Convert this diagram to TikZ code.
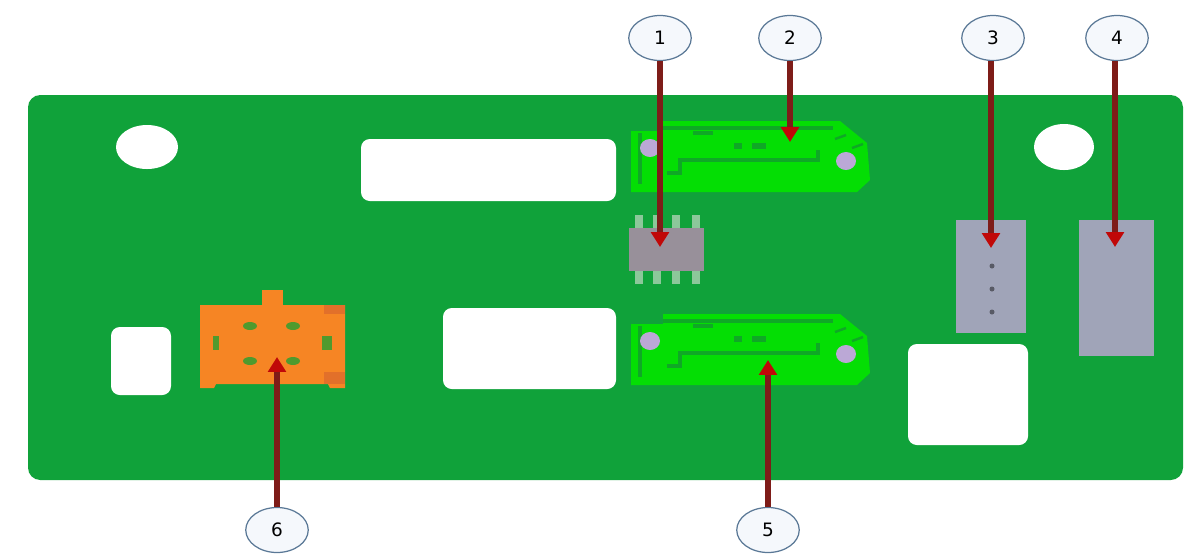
\documentclass[tikz,border=0pt]{standalone}
\usepackage{fontspec}
\setmainfont{DejaVu Sans}
\usepackage{tikz}
\usetikzlibrary{arrows.meta, shapes.geometric}
\definecolor{pcbGreen}{HTML}{10A23A}
\definecolor{connGreen}{HTML}{04DE04}
\definecolor{connLine}{HTML}{0FA826}
\definecolor{connHole}{HTML}{BBA8D6}
\definecolor{chipGray}{HTML}{98909A}
\definecolor{pinGreen}{HTML}{8CC89A}
\definecolor{blockGray}{HTML}{A0A4B8}
\definecolor{plugOrange}{HTML}{F68524}
\definecolor{plugDark}{HTML}{E2702A}
\definecolor{plugDot}{HTML}{4F9A2E}
\definecolor{calloutEdge}{HTML}{5A7896}
\definecolor{calloutFill}{HTML}{F5F8FC}
\definecolor{arrowRed}{HTML}{7E1C18}
\definecolor{tipRed}{HTML}{C00808}
% one connector, only the vertical offset changes
\newcommand{\drawconn}[1]{%
  \begin{scope}[shift={(0,#1)}]
    \fill[connGreen] (663,121) -- (840,121) -- (867,143) -- (870,180) -- (857,192)
      -- (631,192) -- (631,131) -- (663,131) -- cycle;
    \draw[connLine, line width=2pt] (663,128) -- (833,128);
    \draw[connLine, line width=1.8pt] (818,150) -- (818,160) -- (680,160) -- (680,173) -- (667,173);
    \draw[connLine, line width=2.4pt] (640,133) -- (640,184);
    \draw[connLine, line width=1.4pt] (835,139) -- (846,135);
    \draw[connLine, line width=1.4pt] (852,148) -- (863,144);
    \fill[connHole] (650,148) ellipse (10 and 9);
    \fill[connHole] (846,161) ellipse (10 and 9);
    \fill[connLine] (734,143) rectangle (742,149);
    \fill[connLine] (752,143) rectangle (766,149);
    \fill[connLine] (693,131) rectangle (713,135);
  \end{scope}}

\begin{document}
\begin{tikzpicture}[
  x=0.02cm, y=-0.02cm,
  cutout/.style={fill=white, rounded corners=5pt},
  callout/.style={
    ellipse, draw=calloutEdge, fill=calloutFill, line width=0.7pt,
    minimum width=1.25cm, minimum height=0.9cm, inner sep=0pt,
    font=\fontsize{10.5}{12}\selectfont, text=black,
  },
  callarrow/.style={
    -{Triangle[length=8.5pt, width=10pt, color=tipRed]},
    line width=3.1pt, color=arrowRed,
  },
]
\useasboundingbox (0,0) rectangle (1197,556);

% Board
\fill[pcbGreen, rounded corners=7pt] (28,95) rectangle (1183,480);

% Mounting holes and cut-outs
\fill[white] (147,147) ellipse (31 and 22);
\fill[white] (1064,147) ellipse (30 and 23);
\fill[cutout] (361,139) rectangle (616,201);
\fill[cutout] (443,308) rectangle (616,389);
\fill[cutout] (111,327) rectangle (171,395);
\fill[cutout] (908,344) rectangle (1028,445);

% Connectors
\drawconn{0}
\drawconn{193}

% Chip
\fill[pinGreen] (635,215) rectangle (643,284);
\fill[pinGreen] (653,215) rectangle (661,284);
\fill[pinGreen] (672,215) rectangle (680,284);
\fill[pinGreen] (692,215) rectangle (700,284);
\fill[chipGray] (629,228) rectangle (704,271);

% Gray blocks
\fill[blockGray] (956,220) rectangle (1026,333);
\fill[blockGray] (1079,220) rectangle (1154,356);
\fill[black!45!blockGray] (992,266) circle (2.5);
\fill[black!45!blockGray] (992,289) circle (2.5);
\fill[black!45!blockGray] (992,312) circle (2.5);

% Orange plug
\fill[plugOrange] (262,290) rectangle (283,306);
\fill[plugOrange] (200,305) -- (345,305) -- (345,388) -- (330,388) -- (328,384)
  -- (216,384) -- (214,388) -- (200,388) -- cycle;
\fill[plugDark] (324,305) rectangle (345,314);
\fill[plugDark] (324,372) rectangle (345,384);
\fill[plugDot] (250,326) ellipse (7 and 4);
\fill[plugDot] (293,326) ellipse (7 and 4);
\fill[plugDot] (250,361) ellipse (7 and 4);
\fill[plugDot] (293,361) ellipse (7 and 4);
\fill[plugDot] (213,336) rectangle (219,350);
\fill[plugDot] (322,336) rectangle (332,350);

% Callouts
\node[callout] (c1) at (660,38) {1};
\node[callout] (c2) at (790,38) {2};
\node[callout] (c3) at (993,38) {3};
\node[callout] (c4) at (1117,38) {4};
\node[callout] (c5) at (768,530) {5};
\node[callout] (c6) at (277,530) {6};

% Arrow ends
\coordinate (t1) at (660,247);
\coordinate (t2) at (790,142);
\coordinate (t3) at (991,248);
\coordinate (t4) at (1115,247);
\coordinate (t5) at (768,360);
\coordinate (t6) at (277,357);

% Arrows
\draw[callarrow] (c1.south) -- (t1);
\draw[callarrow] (c2.south) -- (t2);
\draw[callarrow] (c3.south -| t3) -- (t3);
\draw[callarrow] (c4.south -| t4) -- (t4);
\draw[callarrow] (c5.north) -- (t5);
\draw[callarrow] (c6.north) -- (t6);

\end{tikzpicture}
\end{document}
